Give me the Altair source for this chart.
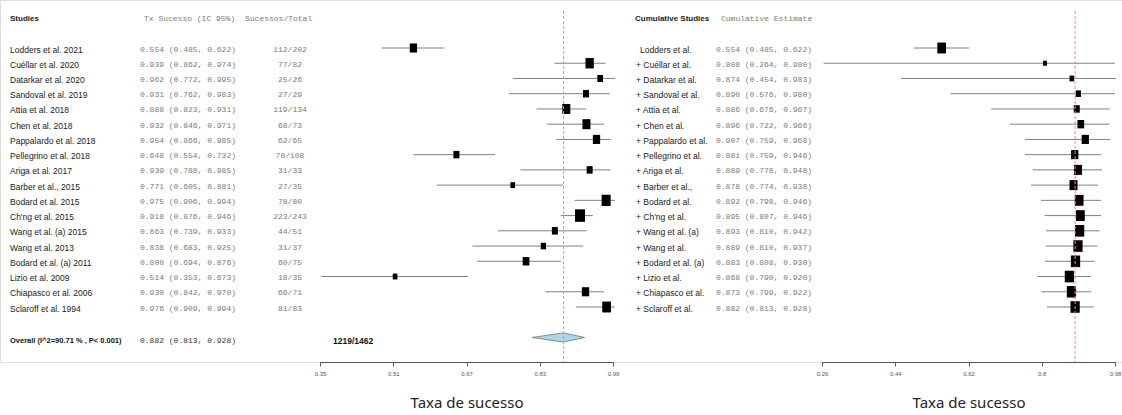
import altair as alt
import pandas as pd

# ---------------- data ----------------
studies = ["Lodders et al.  2021", "Cuéllar et al. 2020", "Datarkar et al.  2020", "Sandoval et al. 2019",
           "Attia et al. 2018", "Chen et al. 2018", "Pappalardo et al. 2018", "Pellegrino et al. 2018",
           "Ariga et al.  2017", "Barber et al., 2015", "Bodard et al. 2015", "Ch'ng et al. 2015",
           "Wang et al. (a) 2015", "Wang et al. 2013", "Bodard et al. (a) 2011", "Lizio et al. 2009",
           "Chiapasco et al. 2006", "Sclaroff et al. 1994"]
est = [0.554, 0.939, 0.962, 0.931, 0.888, 0.932, 0.954, 0.648, 0.939, 0.771, 0.975, 0.918, 0.863, 0.838, 0.800, 0.514, 0.930, 0.976]
lower = [0.485, 0.862, 0.772, 0.762, 0.823, 0.846, 0.866, 0.554, 0.788, 0.605, 0.906, 0.876, 0.739, 0.683, 0.694, 0.353, 0.842, 0.909]
upper = [0.622, 0.974, 0.995, 0.983, 0.931, 0.971, 0.985, 0.732, 0.985, 0.881, 0.994, 0.946, 0.933, 0.925, 0.876, 0.673, 0.970, 0.994]
events = ["112/202", "77/82", "25/26", "27/29", "119/134", "68/73", "62/65", "70/108", "31/33", "27/35",
          "78/80", "223/243", "44/51", "31/37", "60/75", "18/35", "66/71", "81/83"]
weights = [53, 69, 32, 36, 64, 64, 53, 36, 36, 22, 81, 100, 36, 28, 45, 22, 53, 76]

cum_names = ["Lodders et al.", "+ Cuéllar et al.", "+ Datarkar et al.", "+ Sandoval et al.", "+ Attia et al.",
             "+ Chen et al.", "+ Pappalardo et al.", "+ Pellegrino et al.", "+ Ariga et al.", "+ Barber et al.,",
             "+ Bodard et al.", "+ Ch'ng et al.", "+ Wang et al. (a)", "+ Wang et al.", "+ Bodard et al. (a)",
             "+ Lizio et al.", "+ Chiapasco et al.", "+ Sclaroff et al."]
cum_est = [0.554, 0.808, 0.874, 0.890, 0.886, 0.896, 0.907, 0.881, 0.889, 0.878, 0.892, 0.895, 0.893, 0.889, 0.883, 0.868, 0.873, 0.882]
cum_lower = [0.485, 0.264, 0.454, 0.576, 0.676, 0.722, 0.759, 0.759, 0.778, 0.774, 0.798, 0.807, 0.810, 0.810, 0.808, 0.790, 0.799, 0.813]
cum_upper = [0.622, 0.980, 0.983, 0.980, 0.967, 0.966, 0.968, 0.946, 0.948, 0.938, 0.946, 0.946, 0.942, 0.937, 0.930, 0.920, 0.922, 0.928]
cum_weights = [76, 16, 22, 28, 36, 45, 53, 53, 64, 64, 76, 76, 86, 86, 86, 86, 86, 86]

overall_est, overall_lower, overall_upper = 0.882, 0.813, 0.928
overall_label = "Overall (I^2=90.71 % , P< 0.001)"
overall_events = "1219/1462"

left_ticks = [0.35, 0.51, 0.67, 0.83, 0.99]
right_ticks = [0.26, 0.44, 0.62, 0.8, 0.98]
axis_title = "Taxa de sucesso"

# ---------------- tables ----------------
rows = list(range(1, len(studies) + 1))
overall_row = len(studies) + 2

df = pd.DataFrame({"row": rows, "study": studies, "est": est, "lo": lower, "hi": upper,
                   "events": events, "w": weights})
df["ci"] = [f"{e:.3f} ({l:.3f}, {u:.3f})" for e, l, u in zip(est, lower, upper)]

cdf = pd.DataFrame({"row": rows, "name": cum_names, "cest": cum_est, "clo": cum_lower,
                    "chi": cum_upper, "w": cum_weights})
cdf["ci"] = [f"{e:.3f} ({l:.3f}, {u:.3f})" for e, l, u in zip(cum_est, cum_lower, cum_upper)]

odf = pd.DataFrame({"row": [overall_row], "label": [overall_label], "est": [overall_est],
                    "ci": [f"{overall_est:.3f} ({overall_lower:.3f}, {overall_upper:.3f})"],
                    "events": [overall_events]})

ddf = pd.DataFrame({"x": [overall_lower, overall_est, overall_upper],
                    "y": [overall_row, overall_row - 0.3, overall_row],
                    "y2": [overall_row, overall_row + 0.3, overall_row]})

# ---------------- styles ----------------
SANS = "Liberation Sans, Arial, sans-serif"
MONO = "Liberation Mono, DejaVu Sans Mono, monospace"
GRAY = "#7a7a7a"
LINE = "#808080"
BOX_SHAPE = "M-1,-1.25H1V1.25H-1Z"
NAME_SIZE = 8.5

yscale = alt.Scale(domain=[1, 18], range=[48, 307], nice=False, zero=False)


def yq(field="row"):
    return alt.Y(f"{field}:Q", scale=yscale, axis=None)


def make_axis(ticks):
    return alt.Axis(values=ticks, format=".2~f", orient="bottom", title=axis_title,
                    titleFont="Noto Sans", titleFontSize=15, titleFontWeight="normal",
                    titleColor="#222222", titleY=45, titleBaseline="alphabetic",
                    labelFont="Liberation Sans", labelFontSize=6, labelColor="#555555",
                    labelPadding=4, tickSize=4, tickColor="#555555", domainColor="#555555",
                    grid=False, labelFlush=False)


lscale = alt.Scale(domain=[0.35, 0.99], range=[320, 613], nice=False, zero=False)
rscale = alt.Scale(domain=[0.26, 0.98], range=[822, 1115], nice=False, zero=False)
laxis = make_axis(left_ticks)
raxis = make_axis(right_ticks)
size_scale = alt.Scale(domain=[0, 100], range=[0, 100])

# ---------------- left forest ----------------
l_ci = alt.Chart(df).mark_rule(color=LINE, strokeWidth=1).encode(
    x=alt.X("lo:Q", scale=lscale, axis=laxis), x2="hi:Q", y=yq())
l_box = alt.Chart(df).mark_point(shape=BOX_SHAPE, filled=True, color="black", opacity=1).encode(
    x=alt.X("est:Q", scale=lscale, axis=laxis), y=yq(),
    size=alt.Size("w:Q", scale=size_scale, legend=None))
l_dia = alt.Chart(ddf).mark_area(color="#a9d8e8", stroke="#8a8a8a", strokeWidth=1, opacity=1).encode(
    x=alt.X("x:Q", scale=lscale, axis=laxis), y=yq("y"), y2="y2:Q")
l_ref = alt.Chart(odf).mark_rule(color="#f08a8a", strokeDash=[3, 2], strokeWidth=1).encode(
    x=alt.X("est:Q", scale=lscale, axis=laxis), y=alt.value(11), y2=alt.value(362))
left = alt.layer(l_ci, l_box, l_dia, l_ref)

# ---------------- right forest ----------------
r_ci = alt.Chart(cdf).mark_rule(color=LINE, strokeWidth=1).encode(
    x=alt.X("clo:Q", scale=rscale, axis=raxis), x2="chi:Q", y=yq())
r_box = alt.Chart(cdf).mark_point(shape=BOX_SHAPE, filled=True, color="black", opacity=1).encode(
    x=alt.X("cest:Q", scale=rscale, axis=raxis), y=yq(),
    size=alt.Size("w:Q", scale=size_scale, legend=None))
r_ref = alt.Chart(odf).mark_rule(color="#f08a8a", strokeDash=[3, 2], strokeWidth=1).encode(
    x=alt.X("est:Q", scale=rscale, axis=raxis), y=alt.value(11), y2=alt.value(362))
right = alt.layer(r_ci, r_box, r_ref)

# ---------------- text columns ----------------
DY = 1.5


def header(txt, x, font, size, weight="normal", color="#222222"):
    return alt.Chart(pd.DataFrame({"t": [txt]})).mark_text(
        align="left", baseline="middle", font=font, fontSize=size, fontWeight=weight, color=color
    ).encode(x=alt.value(x), y=alt.value(19), text="t:N")


texts = [
    header("Studies", 10, SANS, 8, "bold"),
    header("Tx Sucesso (IC 95%)", 144, MONO, 8, color=GRAY),
    header("Sucessos/Total", 245, MONO, 8, color=GRAY),
    header("Cumulative Studies", 635, SANS, 8, "bold"),
    header("Cumulative Estimate", 721, MONO, 8, color=GRAY),
    alt.Chart(df).mark_text(align="left", baseline="middle", font=SANS, fontSize=NAME_SIZE,
                            color="#1a1a1a", dy=DY).encode(x=alt.value(10), y=yq(), text="study:N"),
    alt.Chart(df).mark_text(align="left", baseline="middle", font=MONO, fontSize=8,
                            color=GRAY, dy=DY).encode(x=alt.value(140), y=yq(), text="ci:N"),
    alt.Chart(df).mark_text(align="center", baseline="middle", font=MONO, fontSize=8,
                            color=GRAY, dy=DY).encode(x=alt.value(290), y=yq(), text="events:N"),
    alt.Chart(odf).mark_text(align="left", baseline="middle", font=SANS, fontSize=7.5,
                             fontWeight="bold", color="#111111", dy=DY + 2).encode(
        x=alt.value(10), y=yq(), text="label:N"),
    alt.Chart(odf).mark_text(align="left", baseline="middle", font=MONO, fontSize=8,
                             color="#333333", dy=DY + 2).encode(x=alt.value(140), y=yq(), text="ci:N"),
    alt.Chart(odf).mark_text(align="left", baseline="middle", font=SANS, fontSize=8.5,
                             fontWeight="bold", color="#111111", dy=DY + 2).encode(
        x=alt.value(333), y=yq(), text="events:N"),
    alt.Chart(cdf).transform_filter("datum.row == 1").mark_text(
        align="left", baseline="middle", font=SANS, fontSize=NAME_SIZE, color="#1a1a1a", dy=DY
    ).encode(x=alt.value(640), y=yq(), text="name:N"),
    alt.Chart(cdf).transform_filter("datum.row > 1").mark_text(
        align="left", baseline="middle", font=SANS, fontSize=NAME_SIZE, color="#1a1a1a", dy=DY
    ).encode(x=alt.value(636), y=yq(), text="name:N"),
    alt.Chart(cdf).mark_text(align="left", baseline="middle", font=MONO, fontSize=8,
                             color=GRAY, dy=DY).encode(x=alt.value(716), y=yq(), text="ci:N"),
]
text_layer = alt.layer(*texts)

chart = alt.layer(left, right, text_layer).resolve_scale(x="independent").properties(
    width=1122, height=362, autosize="none",
    padding={"left": 0, "top": 0, "right": 0, "bottom": 53},
).configure_view(stroke=None).configure(background="white")

chart.save("out.html", embed_options={"renderer": "svg", "actions": False})
